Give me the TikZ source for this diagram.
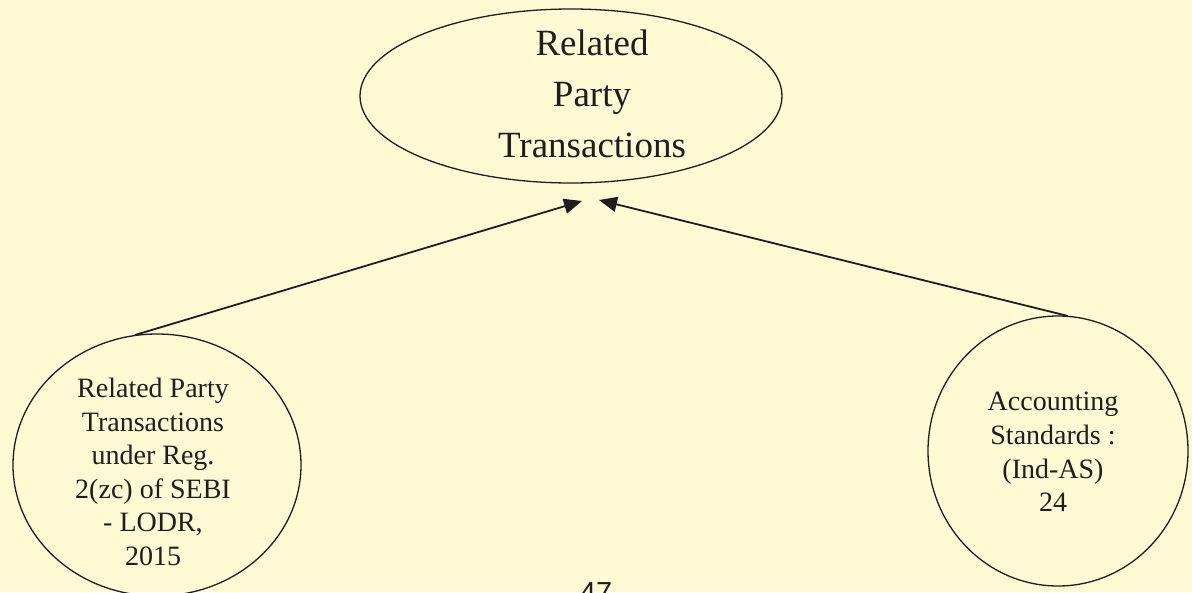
\documentclass[tikz,border=0pt]{standalone}
\usepackage{fontspec}
\setmainfont{Liberation Serif}
\newfontfamily\numfont{Liberation Sans}
\usetikzlibrary{shapes.geometric,arrows.meta}
\definecolor{bgcol}{RGB}{255,250,212}
\definecolor{inkcol}{RGB}{30,30,30}
\tikzset{
  oval/.style={draw=inkcol, ellipse, line width=1.3pt, inner sep=0pt},
  bigtext/.style={align=center, inner sep=0pt, text=inkcol, font=\fontsize{37}{51}\selectfont},
  smalltext/.style={align=center, inner sep=0pt, text=inkcol, font=\fontsize{28}{33.6}\selectfont},
  feed/.style={draw=inkcol, line width=1.8pt, -{Triangle[length=18pt,width=15pt]}}
}
\begin{document}
\begin{tikzpicture}[x=1pt,y=-1pt]
\fill[bgcol] (0,0) rectangle (1192,592);
\useasboundingbox (0,0) rectangle (1192,592);
\clip (0,0) rectangle (1192,592);
% top ellipse
\node[oval, minimum width=422pt, minimum height=174pt] (top) at (571,96) {};
\node[bigtext] (toptext) at (592,94) {Related\\Party\\Transactions};
% left ellipse
\node[oval, minimum width=288pt, minimum height=262pt] (left) at (157,465) {};
\node[smalltext] (lefttext) at (153,472) {Related Party\\Transactions\\under Reg.\\2(zc) of SEBI\\- LODR,\\2015};
% right ellipse
\node[oval, minimum width=260pt, minimum height=270pt] (right) at (1058,451) {};
\node[smalltext] (righttext) at (1053,452) {Accounting\\Standards :\\(Ind-AS)\\24};
% arrow ends
\coordinate (ls) at (135,335);
\coordinate (lt) at (582,201);
\coordinate (rs) at (1068,316);
\coordinate (rt) at (599,200);
\draw[feed] (ls) -- (lt);
\draw[feed] (rs) -- (rt);
% page number (cut off at the lower edge, as in the reference)
\node[anchor=base, inner sep=0pt, text=inkcol, font=\numfont\fontsize{29}{29}\selectfont] (page) at (596,602) {47};
\end{tikzpicture}
\end{document}
